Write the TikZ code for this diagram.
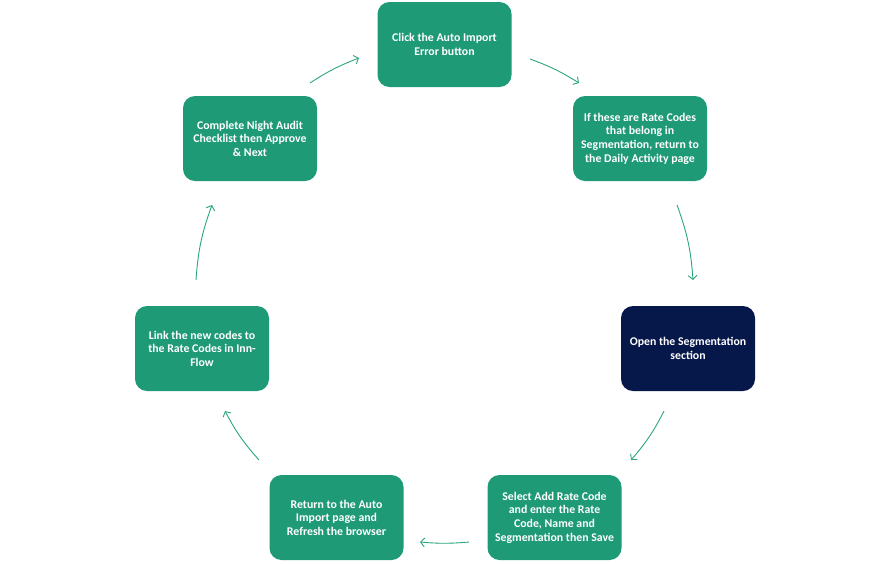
\documentclass[tikz,border=0pt]{standalone}
\usepackage{fontspec}
\setmainfont{Carlito}
\usetikzlibrary{arrows.meta}
\definecolor{boxgreen}{HTML}{1F9A77}
\definecolor{boxnavy}{HTML}{061749}
\definecolor{arrgreen}{HTML}{2AA57F}
\begin{document}
\begin{tikzpicture}[x=1pt,y=-1pt,
  stepbox/.style={draw=none, fill=boxgreen, rounded corners=12pt, minimum width=134pt, minimum height=85pt, inner sep=0pt, text=white, align=center, font=\fontsize{11.8pt}{13.6pt}\selectfont\bfseries},
  navybox/.style={stepbox, fill=boxnavy},
  flow/.style={draw=arrgreen, line width=0.9pt, -{Straight Barb[length=4pt,width=9pt,line width=0.9pt]}}
]
\useasboundingbox (0,0) rectangle (890,563);
\node[stepbox] (b1) at (444.5,44.5) {Click the Auto Import\\Error button};
\node[stepbox] (b2) at (640,138.5) {If these are Rate Codes\\that belong in\\Segmentation, return to\\the Daily Activity page};
\node[navybox] (b3) at (688,348.5) {Open the Segmentation\\section};
\node[stepbox] (b4) at (554.5,517.5) {Select Add Rate Code\\and enter the Rate\\Code, Name and\\Segmentation then Save};
\node[stepbox] (b5) at (336.5,517.5) {Return to the Auto\\Import page and\\Refresh the browser};
\node[stepbox] (b6) at (202,348.5) {Link the new codes to\\the Rate Codes in Inn-\\Flow};
\node[stepbox] (b7) at (250,138.5) {Complete Night Audit\\Checklist then Approve\\\& Next};
\coordinate (a1s) at (530,59);   \coordinate (a1e) at (579,83);
\coordinate (a2s) at (677,205);  \coordinate (a2e) at (693,280);
\coordinate (a3s) at (664,411);  \coordinate (a3e) at (631,460);
\coordinate (a4s) at (469,542);  \coordinate (a4e) at (420,542);
\coordinate (a5s) at (259,460);  \coordinate (a5e) at (225,411);
\coordinate (a6s) at (196,280);  \coordinate (a6e) at (212,205);
\coordinate (a7s) at (310,83);   \coordinate (a7e) at (359,58);
\draw[flow] (a1s) to[bend left=6] (a1e);
\draw[flow] (a2s) to[bend left=8] (a2e);
\draw[flow] (a3s) to[bend left=7] (a3e);
\draw[flow] (a4s) to[bend left=5] (a4e);
\draw[flow] (a5s) to[bend left=7] (a5e);
\draw[flow] (a6s) to[bend left=8] (a6e);
\draw[flow] (a7s) to[bend left=6] (a7e);
\end{tikzpicture}
\end{document}
